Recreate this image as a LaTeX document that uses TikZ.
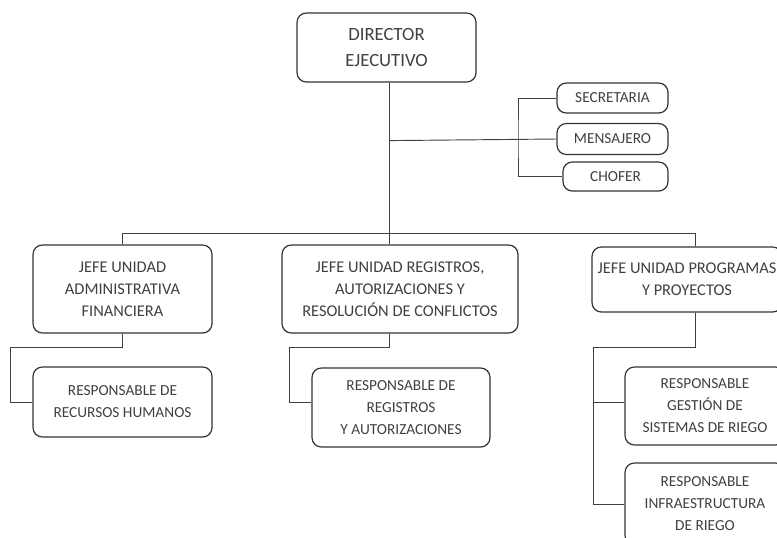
\documentclass[tikz,border=0pt]{standalone}
\usepackage{fontspec}
\setmainfont{Carlito}
\usepackage{tikz}
\usetikzlibrary{positioning}

\begin{document}
\begin{tikzpicture}[x=0.75pt, y=-0.75pt,
  every node/.style={draw=black!80, line width=0.9pt, rounded corners=7pt, align=center, inner sep=0pt, text=black!75, font=\fontsize{11.5}{16.5}\selectfont},
  bx/.style 2 args={minimum width=#1*0.75pt, minimum height=#2*0.75pt},
  jefe/.style={font=\fontsize{12.3}{16.5}\selectfont},
  conn/.style={draw=black!75, line width=0.7pt}]
\useasboundingbox (0,0) rectangle (777,537);
\clip (0,0) rectangle (777,537);
\node[bx={179}{69}, font=\fontsize{14}{20}\selectfont] (DIR) at (386.5,47.5) {DIRECTOR\\ EJECUTIVO};
\node[bx={111}{30}] (SEC) at (612.5,98) {SECRETARIA};
\node[bx={111}{31}] (MEN) at (612.5,139) {MENSAJERO};
\node[bx={105}{29}] (CHO) at (615.5,176.5) {CHOFER};
\node[bx={179}{88}, jefe] (JADM) at (122.5,289) {JEFE UNIDAD\\ ADMINISTRATIVA\\ FINANCIERA};
\node[bx={236}{88}, jefe] (JREG) at (400,289) {JEFE UNIDAD REGISTROS,\\ AUTORIZACIONES Y\\ RESOLUCIÓN DE CONFLICTOS};
\node[bx={190}{65}, jefe] (JPRO) at (687,279.5) {JEFE UNIDAD PROGRAMAS\\ Y PROYECTOS};
\node[bx={179}{70}] (RRHH) at (122.5,402) {RESPONSABLE DE\\ RECURSOS HUMANOS};
\node[bx={178}{79}] (RREG) at (401,407.5) {RESPONSABLE DE\\ REGISTROS\\ Y AUTORIZACIONES};
\node[bx={160}{78}] (RGES) at (705,406) {RESPONSABLE\\ GESTIÓN DE\\ SISTEMAS DE RIEGO};
\node[bx={160}{82}] (RINF) at (705,504) {RESPONSABLE\\ INFRAESTRUCTURA\\ DE RIEGO};
\coordinate (B1) at (389,233);
\coordinate (B2) at (518,140);
\coordinate (B3) at (695,233);
\coordinate (A1) at (10,347);
\coordinate (A2) at (289,347);
\coordinate (A3) at (593,347);
\draw[conn] (DIR.south -| B1) -- (B1);
\draw[conn] (DIR.south -| B1) ++(0,58) -- (MEN.west);
\draw[conn] (SEC.west) -| (B2) |- (CHO.west);
\draw[conn] (JADM.north) |- (B3) -- (JPRO.north -| B3);
\draw[conn] (B1) -- (JREG.north -| B1);
\draw[conn] (JADM.south) |- (A1) |- (RRHH.west);
\draw[conn] (JREG.south -| B1) |- (A2) |- (RREG.west |- RRHH.west);
\draw[conn] (JPRO.south -| B3) |- (A3) |- (RINF.west);
\draw[conn] (A3) |- (RGES.west |- RRHH.west);
\end{tikzpicture}
\end{document}
